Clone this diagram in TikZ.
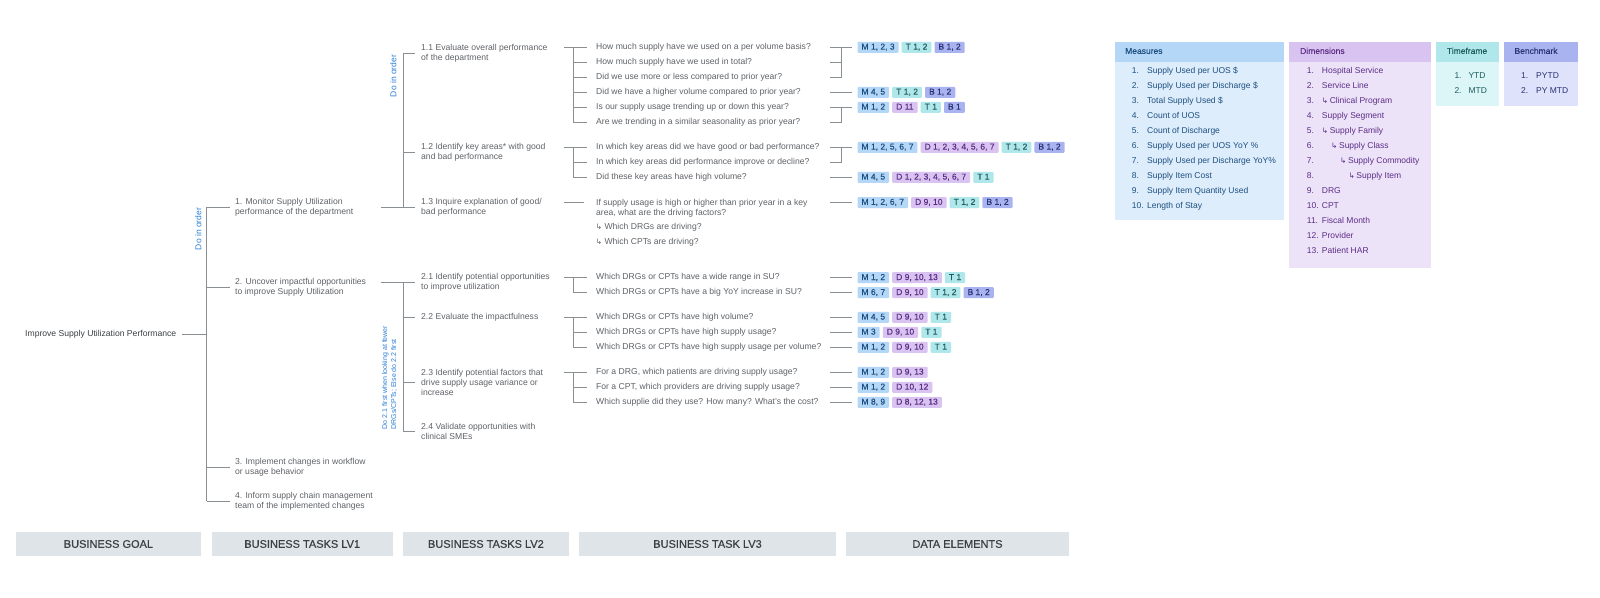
\documentclass[tikz,border=0pt]{standalone}
\usepackage{fontspec}
\setmainfont{Liberation Sans}
\newfontfamily\arrowfont{DejaVu Sans}
\newfontfamily\hdrfont[FakeBold=0.45]{Liberation Sans}
\newfontfamily\medfont[FakeBold=0.2]{Liberation Sans}
\usetikzlibrary{positioning}
\definecolor{txt}{HTML}{5F6368}
\definecolor{txtdark}{HTML}{3C4043}
\definecolor{ln}{HTML}{8A8F94}
\definecolor{notec}{HTML}{2A7FD4}
\definecolor{mfill}{HTML}{B4D6F7}
\definecolor{mtext}{HTML}{1C4F80}
\definecolor{dfill}{HTML}{D8C3F1}
\definecolor{dtext}{HTML}{5C2D85}
\definecolor{tfill}{HTML}{B0E7EA}
\definecolor{ttext}{HTML}{1D5C60}
\definecolor{bfill}{HTML}{A9B3F0}
\definecolor{btext}{HTML}{2A3275}
\definecolor{mbody}{HTML}{DEEDFB}
\definecolor{dbody}{HTML}{EDE3F9}
\definecolor{tbody}{HTML}{DCF5F6}
\definecolor{bbody}{HTML}{DEE2FA}
\definecolor{hdrfill}{HTML}{DFE4E8}
\newcommand{\hookarr}{{\arrowfont\fontsize{7.5}{8}\selectfont ↳}}
\begin{document}
\begin{tikzpicture}[x=1pt,y=-1pt,
  lbl/.style={inner sep=0pt, text=txt, font=\fontsize{8.6}{10}\selectfont, align=left, anchor=west},
  one/.style={lbl, text height=6.2pt, text depth=1.8pt},
  conn/.style={draw=ln, line width=0.9pt},
  notetxt/.style={inner sep=0pt, text=notec, font=\fontsize{8.5}{9}\selectfont, rotate=90, align=left},
  tagbox/.style={inner xsep=4pt, inner ysep=0pt, minimum height=11pt, text height=6.2pt, text depth=1.6pt, rounded corners=1pt, font=\medfont\fontsize{8.5}{9}\selectfont},
  tagM/.style={tagbox, fill=mfill, text=mtext},
  tagD/.style={tagbox, fill=dfill, text=dtext},
  tagT/.style={tagbox, fill=tfill, text=ttext},
  tagB/.style={tagbox, fill=bfill, text=btext},
  first/.style={anchor=west},
  hdrbox/.style={fill=hdrfill, minimum height=24pt, inner sep=0pt, font=\hdrfont\fontsize{11}{12}\selectfont, text=txtdark},
  ptxt/.style={inner sep=0pt, anchor=west, font=\fontsize{8.5}{10}\selectfont, text height=6.2pt, text depth=1.8pt},
  phdr/.style={ptxt, font=\medfont\fontsize{8.5}{10}\selectfont}
]
\useasboundingbox (0,0) rectangle (1600,597);
\fill[white] (0,0) rectangle (1600,597);

% bus coordinates
\coordinate (bus1) at (206.7,0);
\coordinate (s1) at (380.7,0);
\coordinate (bus2) at (403.3,0);
\coordinate (ql) at (564,0);
\coordinate (qb) at (573.3,0);
\coordinate (tl) at (830,0);
\coordinate (tb) at (841.7,0);

% ---------- Business goal ----------
\node[one, text=txtdark] (goal) at (25,334.3) {Improve Supply Utilization Performance};

% ---------- LV1 ----------
\node[lbl] (l1a) at (235,207) {1. Monitor Supply Utilization\\performance of the department};
\node[lbl] (l1b) at (235,287) {2. Uncover impactful opportunities\\to improve Supply Utilization};
\node[lbl] (l1c) at (235,467) {3. Implement changes in workflow\\or usage behavior};
\node[lbl] (l1d) at (235,501) {4. Inform supply chain management\\team of the implemented changes};
\node[notetxt] (note1) at (198.3,229) {Do in order};

\draw[conn] ([xshift=6pt]goal.east) -- (bus1 |- goal.east);
\draw[conn] (bus1 |- l1a.west) -- (bus1 |- l1d.west);
\foreach \n in {l1a,l1b,l1c,l1d} \draw[conn] (bus1 |- \n.west) -- ([xshift=-5pt]\n.west);

% ---------- LV2 ----------
\node[lbl] (l2a) at (421,53) {1.1 Evaluate overall performance\\of the department};
\node[lbl] (l2b) at (421,152.5) {1.2 Identify key areas* with good\\and bad performance};
\node[lbl] (l2c) at (421,207.5) {1.3 Inquire explanation of good/\\bad performance};
\node[lbl] (l2d) at (421,282.5) {2.1 Identify potential opportunities\\to improve utilization};
\node[one] (l2e) at (421,317.3) {2.2 Evaluate the impactfulness};
\node[lbl] (l2f) at (421,382.5) {2.3 Identify potential factors that\\drive supply usage variance or\\increase};
\node[lbl] (l2g) at (421,431.7) {2.4 Validate opportunities with\\clinical SMEs};
\node[notetxt] (note2) at (393.3,76) {Do in order};
\node[notetxt, anchor=west, font=\fontsize{7}{9}\selectfont] (note3) at (389.5,429.5) {Do 2.1 first when looking at fewer\\DRGs/CPTs; Else do 2.2 first};

\draw[conn] (s1 |- l2c.west) -- (bus2 |- l2c.west);
\draw[conn] (s1 |- l2d.west) -- (bus2 |- l2d.west);
\draw[conn] (bus2 |- l2a.west) -- (bus2 |- l2c.west);
\draw[conn] (bus2 |- l2d.west) -- (bus2 |- l2g.west);
\foreach \n in {l2a,l2b,l2c,l2d,l2e,l2f,l2g} \draw[conn] (bus2 |- \n.west) -- ([xshift=-6pt]\n.west);

% ---------- LV3 questions ----------
\node[one] (q11a) at (596,47.3) {How much supply have we used on a per volume basis?};
\node[one] (q11b) at (596,62.3) {How much supply have we used in total?};
\node[one] (q11c) at (596,77.3) {Did we use more or less compared to prior year?};
\node[one] (q11d) at (596,92.3) {Did we have a higher volume compared to prior year?};
\node[one] (q11e) at (596,107.3) {Is our supply usage trending up or down this year?};
\node[one] (q11f) at (596,122.3) {Are we trending in a similar seasonality as prior year?};
\node[one] (q12a) at (596,147.3) {In which key areas did we have good or bad performance?};
\node[one] (q12b) at (596,162.3) {In which key areas did performance improve or decline?};
\node[one] (q12c) at (596,177.3) {Did these key areas have high volume?};
\node[lbl] (q13a) at (596,207.8) {If supply usage is high or higher than prior year in a key\\area, what are the driving factors?};
\node[one] (q13b) at (595.7,227.3) {\hookarr{} Which DRGs are driving?};
\node[one] (q13c) at (595.7,242.3) {\hookarr{} Which CPTs are driving?};
\node[one] (q21a) at (596,277.7) {Which DRGs or CPTs have a wide range in SU?};
\node[one] (q21b) at (596,292.7) {Which DRGs or CPTs have a big YoY increase in SU?};
\node[one] (q22a) at (596,317.3) {Which DRGs or CPTs have high volume?};
\node[one] (q22b) at (596,332.3) {Which DRGs or CPTs have high supply usage?};
\node[one] (q22c) at (596,347.3) {Which DRGs or CPTs have high supply usage per volume?};
\node[one] (q23a) at (596,372.3) {For a DRG, which patients are driving supply usage?};
\node[one] (q23b) at (596,387.3) {For a CPT, which providers are driving supply usage?};
\node[one] (q23c) at (596,402.3) {Which supplie did they use? How many? What’s the cost?};
\coordinate (q13top) at ([yshift=5.3pt]q13a.west);

% LV2 -> LV3 brackets
\draw[conn] (ql |- q11a.west) -- (qb |- q11a.west);
\draw[conn] (qb |- q11a.west) -- (qb |- q11f.west);
\foreach \n in {q11a,q11b,q11c,q11d,q11e,q11f} \draw[conn] (qb |- \n.west) -- ([xshift=-9pt]\n.west);
\draw[conn] (ql |- q12a.west) -- (qb |- q12a.west);
\draw[conn] (qb |- q12a.west) -- (qb |- q12c.west);
\foreach \n in {q12a,q12b,q12c} \draw[conn] (qb |- \n.west) -- ([xshift=-9pt]\n.west);
\draw[conn] (ql |- q13top) -- ([xshift=-12pt]q13top);
\draw[conn] (ql |- q21a.west) -- (qb |- q21a.west);
\draw[conn] (qb |- q21a.west) -- (qb |- q21b.west);
\foreach \n in {q21a,q21b} \draw[conn] (qb |- \n.west) -- ([xshift=-9pt]\n.west);
\draw[conn] (ql |- q22a.west) -- (qb |- q22a.west);
\draw[conn] (qb |- q22a.west) -- (qb |- q22c.west);
\foreach \n in {q22a,q22b,q22c} \draw[conn] (qb |- \n.west) -- ([xshift=-9pt]\n.west);
\draw[conn] (ql |- q23a.west) -- (qb |- q23a.west);
\draw[conn] (qb |- q23a.west) -- (qb |- q23c.west);
\foreach \n in {q23a,q23b,q23c} \draw[conn] (qb |- \n.west) -- ([xshift=-9pt]\n.west);

% ---------- Tags ----------
\node[tagM, first] (tA1) at (857.3,47.3) {M 1, 2, 3};
\node[tagT, right=2.7pt of tA1] (tA2) {T 1, 2};
\node[tagB, right=2.7pt of tA2] (tA3) {B 1, 2};

\node[tagM, first] (tB1) at (857.3,92.3) {M 4, 5};
\node[tagT, right=2.7pt of tB1] (tB2) {T 1, 2};
\node[tagB, right=2.7pt of tB2] (tB3) {B 1, 2};

\node[tagM, first] (tC1) at (857.3,107.3) {M 1, 2};
\node[tagD, right=2.7pt of tC1] (tC2) {D 11};
\node[tagT, right=2.7pt of tC2] (tC3) {T 1};
\node[tagB, right=2.7pt of tC3] (tC4) {B 1};

\node[tagM, first] (tD1) at (857.3,147.3) {M 1, 2, 5, 6, 7};
\node[tagD, right=2.7pt of tD1] (tD2) {D 1, 2, 3, 4, 5, 6, 7};
\node[tagT, right=2.7pt of tD2] (tD3) {T 1, 2};
\node[tagB, right=2.7pt of tD3] (tD4) {B 1, 2};

\node[tagM, first] (tE1) at (857.3,177.3) {M 4, 5};
\node[tagD, right=2.7pt of tE1] (tE2) {D 1, 2, 3, 4, 5, 6, 7};
\node[tagT, right=2.7pt of tE2] (tE3) {T 1};

\node[tagM, first] (tF1) at (857.3,202.5) {M 1, 2, 6, 7};
\node[tagD, right=2.7pt of tF1] (tF2) {D 9, 10};
\node[tagT, right=2.7pt of tF2] (tF3) {T 1, 2};
\node[tagB, right=2.7pt of tF3] (tF4) {B 1, 2};

\node[tagM, first] (tG1) at (857.3,277.7) {M 1, 2};
\node[tagD, right=2.7pt of tG1] (tG2) {D 9, 10, 13};
\node[tagT, right=2.7pt of tG2] (tG3) {T 1};

\node[tagM, first] (tH1) at (857.3,292.7) {M 6, 7};
\node[tagD, right=2.7pt of tH1] (tH2) {D 9, 10};
\node[tagT, right=2.7pt of tH2] (tH3) {T 1, 2};
\node[tagB, right=2.7pt of tH3] (tH4) {B 1, 2};

\node[tagM, first] (tI1) at (857.3,317.3) {M 4, 5};
\node[tagD, right=2.7pt of tI1] (tI2) {D 9, 10};
\node[tagT, right=2.7pt of tI2] (tI3) {T 1};

\node[tagM, first] (tJ1) at (857.3,332.3) {M 3};
\node[tagD, right=2.7pt of tJ1] (tJ2) {D 9, 10};
\node[tagT, right=2.7pt of tJ2] (tJ3) {T 1};

\node[tagM, first] (tK1) at (857.3,347.3) {M 1, 2};
\node[tagD, right=2.7pt of tK1] (tK2) {D 9, 10};
\node[tagT, right=2.7pt of tK2] (tK3) {T 1};

\node[tagM, first] (tL1) at (857.3,372.3) {M 1, 2};
\node[tagD, right=2.7pt of tL1] (tL2) {D 9, 13};

\node[tagM, first] (tM1) at (857.3,387.3) {M 1, 2};
\node[tagD, right=2.7pt of tM1] (tM2) {D 10, 12};

\node[tagM, first] (tN1) at (857.3,402.3) {M 8, 9};
\node[tagD, right=2.7pt of tN1] (tN2) {D 8, 12, 13};

% question -> tag connectors
\draw[conn] (tl |- tA1.west) -- ([xshift=-5.6pt]tA1.west);
\draw[conn] (tb |- q11a.west) -- (tb |- q11c.west);
\draw[conn] (tl |- q11b.west) -- (tb |- q11b.west);
\draw[conn] (tl |- q11c.west) -- (tb |- q11c.west);
\draw[conn] (tl |- tC1.west) -- ([xshift=-5.6pt]tC1.west);
\draw[conn] (tb |- q11e.west) -- (tb |- q11f.west);
\draw[conn] (tl |- q11f.west) -- (tb |- q11f.west);
\draw[conn] (tl |- tD1.west) -- ([xshift=-5.6pt]tD1.west);
\draw[conn] (tb |- q12a.west) -- (tb |- q12b.west);
\draw[conn] (tl |- q12b.west) -- (tb |- q12b.west);
\foreach \n in {tB1,tE1,tF1,tG1,tH1,tI1,tJ1,tK1,tL1,tM1,tN1}
  \draw[conn] (tl |- \n.west) -- ([xshift=-5.6pt]\n.west);

% ---------- Right panel ----------
\fill[mfill] (1115,41.7) rectangle (1284.3,61.7);
\fill[mbody] (1115,61.7) rectangle (1284.3,220);
\node[phdr, text=mtext] (mhdr) at (1125,51.7) {Measures};
\foreach \t [count=\k] in {Supply Used per UOS \$, Supply Used per Discharge \$, Total Supply Used \$, Count of UOS, Count of Discharge, Supply Used per UOS YoY \%, Supply Used per Discharge YoY\%, Supply Item Cost, Supply Item Quantity Used, Length of Stay} {
  \node[ptxt, text=mtext] (mnum\k) at (1131.7,{56.7+15*\k}) {\k.};
  \node[ptxt, text=mtext] (mitem\k) at (1147,{56.7+15*\k}) {\t};
}

\fill[dfill] (1289.3,41.7) rectangle (1431,61.7);
\fill[dbody] (1289.3,61.7) rectangle (1431,268.3);
\node[phdr, text=dtext] (dhdr) at (1300,51.7) {Dimensions};
\foreach \t/\dx [count=\k] in {Hospital Service/0, Service Line/0, \hookarr\hspace{1.6pt}Clinical Program/0, Supply Segment/0, \hookarr\hspace{1.6pt}Supply Family/0, \hookarr\hspace{1.6pt}Supply Class/9.3, \hookarr\hspace{1.6pt}Supply Commodity/18.3, \hookarr\hspace{1.6pt}Supply Item/26.6, DRG/0, CPT/0, Fiscal Month/0, Provider/0, Patient HAR/0} {
  \node[ptxt, text=dtext] (dnum\k) at (1306.7,{56.7+15*\k}) {\k.};
  \node[ptxt, text=dtext] (ditem\k) at ({1321.7+\dx},{56.7+15*\k}) {\t};
}

\fill[tfill] (1436,41.7) rectangle (1499,61.7);
\fill[tbody] (1436,61.7) rectangle (1499,105.7);
\node[phdr, text=ttext] (thdr) at (1446.7,51.7) {Timeframe};
\node[ptxt, text=ttext] (tnum1) at (1454.3,76.7) {1.};
\node[ptxt, text=ttext] (titem1) at (1468.3,76.7) {YTD};
\node[ptxt, text=ttext] (tnum2) at (1454.3,91.7) {2.};
\node[ptxt, text=ttext] (titem2) at (1468.3,91.7) {MTD};

\fill[bfill] (1504.3,41.7) rectangle (1578,61.7);
\fill[bbody] (1504.3,61.7) rectangle (1578,105.7);
\node[phdr, text=btext] (bhdr) at (1514.3,51.7) {Benchmark};
\node[ptxt, text=btext] (bnum1) at (1521,76.7) {1.};
\node[ptxt, text=btext] (bitem1) at (1536,76.7) {PYTD};
\node[ptxt, text=btext] (bnum2) at (1521,91.7) {2.};
\node[ptxt, text=btext] (bitem2) at (1536,91.7) {PY MTD};

% ---------- Bottom headers ----------
\node[hdrbox, minimum width=185.9pt] (h1) at (108.45,544) {BUSINESS GOAL};
\node[hdrbox, minimum width=180.8pt] (h2) at (302.2,544) {BUSINESS TASKS LV1};
\node[hdrbox, minimum width=166pt] (h3) at (485.9,544) {BUSINESS TASKS LV2};
\node[hdrbox, minimum width=256.6pt] (h4) at (707.5,544) {BUSINESS TASK LV3};
\node[hdrbox, minimum width=222.8pt] (h5) at (957.5,544) {DATA ELEMENTS};
\end{tikzpicture}
\end{document}
